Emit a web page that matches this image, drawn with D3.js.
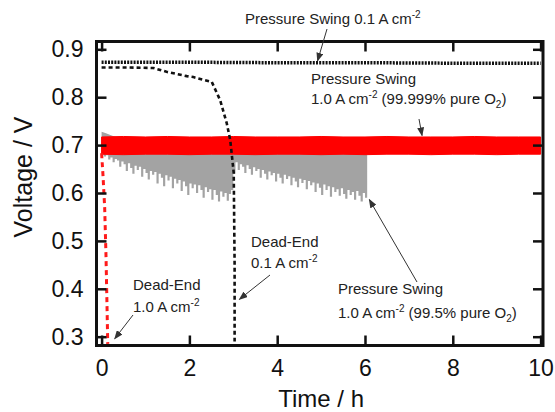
<meta charset="utf-8">
<style>
  body { margin: 0; background: #fff; }
  text { font-family: "Liberation Sans", Arial, sans-serif; }
</style>
<script src="https://cdn.jsdelivr.net/npm/d3@7"></script>
<svg id="chart" width="555" height="412"></svg>
<script>
// ---- data ----
var xTicks = [0, 2, 4, 6, 8, 10];
var yTicks = [0.3, 0.4, 0.5, 0.6, 0.7, 0.8, 0.9];

// pressure swing 0.1 A cm-2 (black dotted, flat)
var psLowT = [0, 2, 4, 6, 8, 10];
var psLowV = [0.873, 0.873, 0.872, 0.872, 0.871, 0.871];

// dead-end 0.1 A cm-2 (black dashed)
var deLowT = [0, 0.6, 1.18, 1.48, 1.94, 2.09, 2.51, 2.70, 2.85, 2.93, 3.01, 3.03, 3.03];
var deLowV = [0.862, 0.862, 0.861, 0.853, 0.844, 0.842, 0.832, 0.794, 0.746, 0.711, 0.642, 0.45, 0.29];

// dead-end 1.0 A cm-2 (red dashed)
var deHighT = [0, 0.03, 0.07, 0.10, 0.12, 0.14];
var deHighV = [0.683, 0.64, 0.57, 0.47, 0.38, 0.285];

// pressure swing 1.0 A cm-2, 99.999 % O2 (red band)
var redT   = [0, 0.5, 1, 1.5, 2, 2.5, 3, 3.5, 4, 4.5, 5, 5.5, 6, 6.5, 7, 7.5, 8, 8.5, 9, 9.5, 10];
var redTop = [0.717, 0.718, 0.717, 0.718, 0.717, 0.717, 0.718, 0.717, 0.717, 0.717, 0.718, 0.717, 0.717, 0.718, 0.717, 0.717, 0.717, 0.718, 0.717, 0.717, 0.717];
var redBot = [0.681, 0.680, 0.681, 0.681, 0.680, 0.681, 0.681, 0.680, 0.681, 0.681, 0.680, 0.681, 0.680, 0.681, 0.681, 0.680, 0.681, 0.681, 0.680, 0.681, 0.681];

// pressure swing 1.0 A cm-2, 99.5 % O2 (grey spikes), lower edge every 0.05 h from 0 to 6.05 h
var grayLow = [
  0.681, 0.676, 0.679, 0.670, 0.674, 0.664, 0.671, 0.668, 0.655, 0.666,
  0.660, 0.646, 0.662, 0.652, 0.640, 0.657, 0.648, 0.655, 0.634, 0.650,
  0.642, 0.628, 0.646, 0.638, 0.644, 0.620, 0.640, 0.632, 0.614, 0.637,
  0.626, 0.634, 0.610, 0.630, 0.620, 0.627, 0.604, 0.624, 0.614, 0.596,
  0.620, 0.610, 0.618, 0.600, 0.616, 0.606, 0.590, 0.612, 0.602, 0.608,
  0.586, 0.606, 0.596, 0.582, 0.603, 0.592, 0.600, 0.584, 0.598, 0.606,
  0.640,
  0.664, 0.648, 0.660, 0.655, 0.642, 0.658, 0.650, 0.638, 0.654, 0.646,
  0.650, 0.632, 0.648, 0.640, 0.628, 0.645, 0.637, 0.642, 0.624, 0.640,
  0.632, 0.620, 0.638, 0.629, 0.635, 0.616, 0.632, 0.624, 0.612, 0.630,
  0.621, 0.627, 0.608, 0.625, 0.616, 0.622, 0.602, 0.620, 0.611, 0.596,
  0.618, 0.606, 0.614, 0.592, 0.612, 0.602, 0.608, 0.594, 0.610, 0.598,
  0.588, 0.606, 0.596, 0.602, 0.586, 0.604, 0.594, 0.582, 0.600, 0.590,
  0.598
];
var grayHigh = 0.712;
// start-up overshoot above the red band
var grayBumpT = [0, 0.1, 0.2, 0.35, 0.5];
var grayBumpV = [0.728, 0.725, 0.721, 0.716, 0.712];

// ---- layout ----
var svg = d3.select('#chart');
var mL = 96.5, mT = 41.5, mR = 543, mB = 345.5;

var x = d3.scaleLinear().domain([-0.116, 10.055]).range([mL, mR]);
var y = d3.scaleLinear().domain([0.2816, 0.9163]).range([mB, mT]);

var defs = svg.append('defs');
defs.append('marker')
  .attr('id', 'arrow')
  .attr('markerUnits', 'userSpaceOnUse')
  .attr('markerWidth', 9).attr('markerHeight', 7)
  .attr('refX', 8).attr('refY', 3.5)
  .attr('orient', 'auto')
  .append('path').attr('d', 'M0,0 L9,3.5 L0,7 Z').attr('fill', '#333');
defs.append('clipPath').attr('id', 'plot')
  .append('rect').attr('x', mL).attr('y', mT)
  .attr('width', mR - mL).attr('height', mB - mT);

var plot = svg.append('g').attr('clip-path', 'url(#plot)');

var line = d3.line().x(function(d){ return x(d[0]); }).y(function(d){ return y(d[1]); });

// grey series
var grayTimes = d3.range(grayLow.length).map(function(i){ return i * 0.05; });
var grayData = grayTimes.map(function(t, i){ return [t, grayLow[i]]; });
plot.append('path')
  .datum(grayData)
  .attr('fill', '#a3a3a3')
  .attr('d', d3.area().curve(d3.curveStepAfter)
    .x(function(d){ return x(d[0]); })
    .y0(function(d){ return y(d[1]); })
    .y1(y(grayHigh)));
plot.append('path')
  .datum(grayBumpT.map(function(t, i){ return [t, grayBumpV[i]]; }))
  .attr('fill', '#a3a3a3')
  .attr('d', d3.area()
    .x(function(d){ return x(d[0]); })
    .y0(y(0.70))
    .y1(function(d){ return y(d[1]); }));

// red band
plot.append('path')
  .datum(redT.map(function(t, i){ return [t, redTop[i], redBot[i]]; }))
  .attr('fill', '#ff0000')
  .attr('stroke', '#ff0000')
  .attr('stroke-width', 1)
  .attr('d', d3.area()
    .x(function(d){ return x(d[0]); })
    .y0(function(d){ return y(d[2]); })
    .y1(function(d){ return y(d[1]); }));

// red dashed dead-end
plot.append('path')
  .datum(deHighT.map(function(t, i){ return [t, deHighV[i]]; }))
  .attr('fill', 'none')
  .attr('stroke', '#ff1a1a')
  .attr('stroke-width', 3)
  .attr('stroke-dasharray', '5,4')
  .attr('d', line);

// black dashed dead-end
plot.append('path')
  .datum(deLowT.map(function(t, i){ return [t, deLowV[i]]; }))
  .attr('fill', 'none')
  .attr('stroke', '#111')
  .attr('stroke-width', 2.6)
  .attr('stroke-dasharray', '4,3')
  .attr('d', line);

// black pressure swing 0.1
plot.append('path')
  .datum(psLowT.map(function(t, i){ return [t, psLowV[i]]; }))
  .attr('fill', 'none')
  .attr('stroke', '#111')
  .attr('stroke-width', 3.5)
  .attr('stroke-dasharray', '2,1.2')
  .attr('d', line);

// ---- axes and frame ----
var ax = svg.append('g');
function tickAxis(axis, pos, labels) {
  var g = ax.append('g').attr('transform', pos).call(axis);
  g.select('.domain').remove();
  g.selectAll('.tick line').attr('stroke', '#111').attr('stroke-width', 2.5);
  if (labels) {
    g.selectAll('.tick text').attr('font-size', 23).attr('fill', '#111')
      .attr('font-family', '"Liberation Sans", Arial, sans-serif');
  } else {
    g.selectAll('.tick text').remove();
  }
  return g;
}
tickAxis(d3.axisBottom(x).tickValues(xTicks).tickSize(-10).tickPadding(14), 'translate(0,' + mB + ')', true);
tickAxis(d3.axisTop(x).tickValues(xTicks).tickSize(-10), 'translate(0,' + mT + ')', false);
tickAxis(d3.axisLeft(y).tickValues(yTicks).tickSize(-10).tickPadding(13).tickFormat(d3.format('.1f')), 'translate(' + mL + ',0)', true);
tickAxis(d3.axisRight(y).tickValues(yTicks).tickSize(-10), 'translate(' + mR + ',0)', false);

svg.append('rect')
  .attr('x', mL).attr('y', mT)
  .attr('width', mR - mL).attr('height', mB - mT)
  .attr('fill', 'none').attr('stroke', '#111').attr('stroke-width', 3);

svg.append('text')
  .attr('x', (x(0) + x(10)) / 2).attr('y', 407)
  .attr('font-size', 24).attr('fill', '#111')
  .attr('text-anchor', 'middle').text('Time / h');
svg.append('text')
  .attr('transform', 'translate(32,177) rotate(-90)')
  .attr('font-size', 25).attr('fill', '#111')
  .attr('text-anchor', 'middle').text('Voltage / V');

// ---- annotations ----
function note(px, py, parts) {
  var t = svg.append('text').attr('font-size', 15).attr('fill', '#222')
    .attr('x', px).attr('y', py);
  var back = 0;
  parts.forEach(function(p) {
    if (typeof p === 'string') {
      t.append('tspan').attr('dy', back).attr('font-size', 15).text(p);
      back = 0;
    } else {
      var shift = p.sup ? -6 : 4;
      t.append('tspan').attr('dy', shift).attr('font-size', 10).text(p.text);
      back = -shift;
    }
  });
}
function arrow(x1, y1, x2, y2) {
  svg.append('line')
    .attr('x1', x1).attr('y1', y1).attr('x2', x2).attr('y2', y2)
    .attr('stroke', '#333').attr('stroke-width', 1)
    .attr('marker-end', 'url(#arrow)');
}

note(245, 24, ['Pressure Swing 0.1 A cm', {text: '-2', sup: true}]);
arrow(327, 29, x(4.92), y(0.876));

note(311, 84, ['Pressure Swing']);
note(311, 104, ['1.0 A cm', {text: '-2', sup: true}, ' (99.999% pure O', {text: '2'}, ')']);
arrow(419, 119, x(7.3), y(0.720));

note(133, 290, ['Dead-End']);
note(133, 312, ['1.0 A cm', {text: '-2', sup: true}]);
arrow(133, 315, x(0.3), y(0.296));

note(251, 247, ['Dead-End']);
note(251, 268, ['0.1 A cm', {text: '-2', sup: true}]);
arrow(270, 275, x(3.14), y(0.378));

note(338, 294, ['Pressure Swing']);
note(338, 318, ['1.0 A cm', {text: '-2', sup: true}, ' (99.5% pure O', {text: '2'}, ')']);
arrow(417, 282, x(6.1), y(0.586));
</script>
